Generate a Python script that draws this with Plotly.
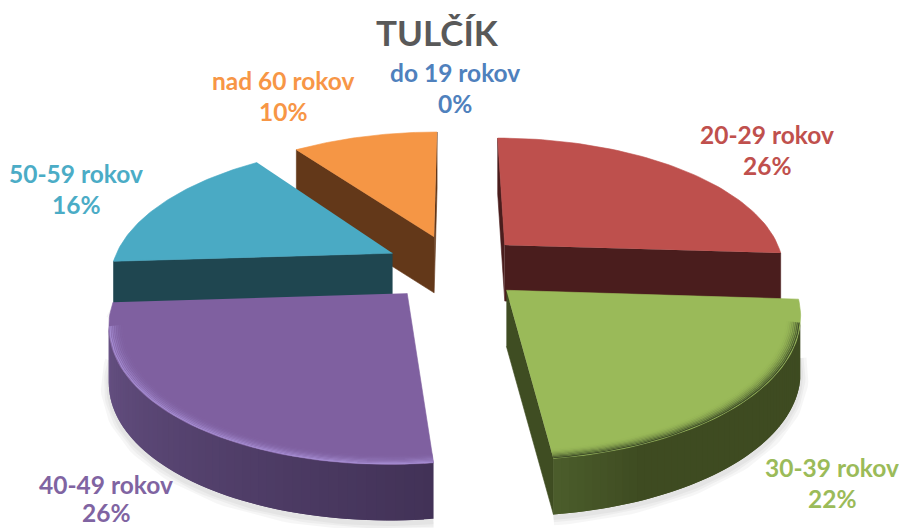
import math
import plotly.graph_objects as go

# Data
categories = ["do 19 rokov", "20-29 rokov", "30-39 rokov", "40-49 rokov", "50-59 rokov", "nad 60 rokov"]
values = [0, 26, 22, 26, 16, 10]
title_text = "TULČÍK"

# Styles
top_colors = ["#4f81bd", "#be504d", "#9aba59", "#7f60a0", "#4aaac4", "#f59645"]
wall_start = ["#2c4d75", "#4e1f1f", "#3e4b21", "#423257", "#1f4650", "#6a3c1c"]
wall_end = ["#2c4d75", "#4a1d1d", "#4c5e2c", "#6a5488", "#1f4650", "#633819"]
edge_colors = ["#2c4d75", "#4a1d1d", "#3f4d22", "#423257", "#1f4650", "#633819"]
rim_colors = [None, None, "#42522a", "#a48bd0", None, None]
label_colors = ["#4f81bd", "#c0504d", "#9bbb59", "#8064a2", "#4bacc6", "#f79646"]
title_color = "#595959"
label_size = 24.5
title_size = 35

# Projection (chart layout)
CX, CY = 455, 267
AX, BY = 281, 132
PERSP = 0.17
EXPLODE = 0.25
DEPTH = 56
FRONT_SHEAR = 8
label_pos = [(455, 72), (767, 134), (832, 467), (106, 484), (76, 173), (283, 80)]
title_pos = (437, 32)
LINE_GAP = 31
LOWEST_LABEL = 512


def proj(x, y, drop=0.0):
    s = 1 / (1 - PERSP * y)
    return CX + AX * x * s - FRONT_SHEAR * max(y, 0), CY + BY * y * s + drop


def blend(c1, c2, t):
    a = [int(c1[i:i + 2], 16) for i in (1, 3, 5)]
    b = [int(c2[i:i + 2], 16) for i in (1, 3, 5)]
    return "#%02x%02x%02x" % tuple(round(p + (q - p) * t) for p, q in zip(a, b))


fig = go.Figure()


def poly(pts, color, line=0.0):
    fig.add_trace(go.Scatter(
        x=[p[0] for p in pts], y=[p[1] for p in pts], mode="lines", fill="toself",
        fillcolor=color, line=dict(color=color, width=line),
        hoverinfo="skip", showlegend=False))


def stroke(pts, color, width):
    fig.add_trace(go.Scatter(
        x=[p[0] for p in pts], y=[p[1] for p in pts], mode="lines",
        line=dict(color=color, width=width), hoverinfo="skip", showlegend=False))


total = sum(values)
slices = []
acc = 0.0
for i, v in enumerate(values):
    a0 = acc / total * 2 * math.pi
    acc += v
    a1 = acc / total * 2 * math.pi
    if v == 0:
        continue
    mid = (a0 + a1) / 2
    ax = EXPLODE * math.sin(mid)
    ay = -EXPLODE * math.cos(mid)
    slices.append((ay, i, a0, a1, ax))

cam_y = 1 / PERSP
N = 60

# Soft shadows first, behind every slice
for ay, i, a0, a1, ax in slices:
    edge = []
    for k in range(N + 1):
        a = a0 + (a1 - a0) * k / N
        edge.append(proj(ax + math.sin(a), ay - math.cos(a), DEPTH + 3))
    if -math.cos((a0 + a1) / 2) > -0.5:
        for w in (16, 10, 5):
            stroke(edge, "rgba(0,0,0,0.035)", w)

for ay, i, a0, a1, ax in sorted(slices):
    for a, sign in ((a0, -1), (a1, 1)):
        nx, ny = sign * math.cos(a), sign * math.sin(a)
        if nx * (0 - ax) + ny * (cam_y - ay) > 0:
            px, py = ax + math.sin(a), ay - math.cos(a)
            poly([proj(ax, ay), proj(px, py), proj(px, py, DEPTH), proj(ax, ay, DEPTH)],
                 edge_colors[i], 0.6)

    # curved outer wall in overlapping strips
    vis = []
    for k in range(N + 1):
        a = a0 + (a1 - a0) * k / N
        px, py = ax + math.sin(a), ay - math.cos(a)
        nx, ny = math.sin(a), -math.cos(a)
        vis.append(nx * (0 - px) + ny * (cam_y - py) > 0)
    last = max((k for k in range(N + 1) if vis[k]), default=None)
    for k in range(N):
        if vis[k] and vis[k + 1]:
            t = k / N
            if i == 2:
                t = max(0.0, 1 - (1 - t) * 5)  # green lightens only at its lower left end
            col = blend(wall_start[i], wall_end[i], t)
            strip = []
            for j in (k, min(k + 2, last)):
                a = a0 + (a1 - a0) * j / N
                strip.append((ax + math.sin(a), ay - math.cos(a)))
            poly([proj(*strip[0]), proj(*strip[1]), proj(*strip[1], DEPTH), proj(*strip[0], DEPTH)], col)

    # top face
    top = [proj(ax, ay)]
    for k in range(N + 1):
        a = a0 + (a1 - a0) * k / N
        top.append(proj(ax + math.sin(a), ay - math.cos(a)))
    poly(top, top_colors[i], 0.6)

    # bevel along the front rim, fading inwards
    if rim_colors[i]:
        steps = 8
        for n in range(steps, 0, -1):
            f = n / steps
            r = 1 - 0.045 * (1 - f) - 0.004
            arc = []
            for k in range(N + 1):
                a = a0 + (a1 - a0) * k / N
                if vis[k] and (i != 2 or k > 4):
                    arc.append(proj(ax + r * math.sin(a), ay - r * math.cos(a)))
            stroke(arc, blend(top_colors[i], rim_colors[i], f ** 2), 1.4)

annotations = [dict(x=title_pos[0], y=title_pos[1], text="<b>%s</b>" % title_text, showarrow=False,
                    xref="x", yref="y", font=dict(family="Lato", size=title_size, color=title_color))]
for cat, v, c, (lx, ly) in zip(categories, values, label_colors, label_pos):
    annotations.append(dict(x=lx, y=ly, text="<b>%s</b>" % cat, showarrow=False, xref="x", yref="y",
                            font=dict(family="Lato", size=label_size, color=c)))
    annotations.append(dict(x=lx, y=min(ly + LINE_GAP, LOWEST_LABEL), text="<b>%d%%</b>" % v, showarrow=False,
                            xref="x", yref="y", font=dict(family="Lato", size=label_size, color=c)))

fig.update_layout(
    width=899, height=528, margin=dict(l=0, r=0, t=0, b=0),
    paper_bgcolor="white", plot_bgcolor="white", showlegend=False,
    xaxis=dict(range=[0, 899], visible=False, fixedrange=True),
    yaxis=dict(range=[528, 0], visible=False, fixedrange=True),
    annotations=annotations,
)
fig.write_html("out.html", config={"displayModeBar": False},
               post_script="document.body.style.margin='0';document.body.style.overflow='hidden';")
